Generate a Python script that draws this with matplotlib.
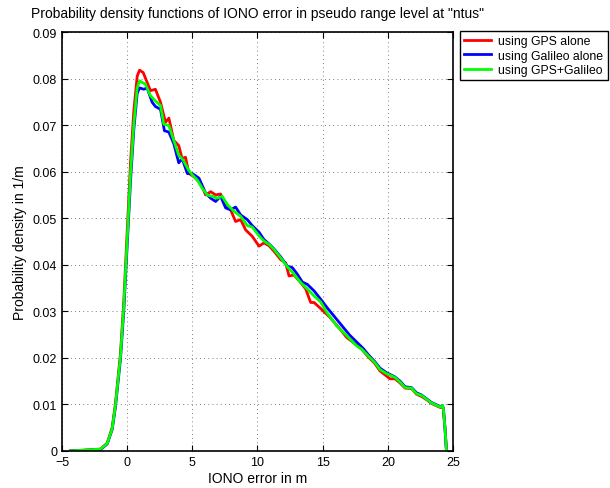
import matplotlib
matplotlib.use("Agg")
import matplotlib.pyplot as plt

plt.rcParams["font.family"] = ["Liberation Sans", "DejaVu Sans"]

# IONO error (m) and pdf values, one list pair per case
gps_x = [-4.35, -2.05, -1.53, -1.15, -0.9, -0.51, -0.26, 0.0, 0.26, 0.51, 0.77, 0.95,
         1.23, 1.79, 2.17, 2.56, 2.94, 3.2, 3.58, 3.96, 4.22, 4.48, 4.74, 5.13, 5.64,
         6.02, 6.41, 6.79, 7.17, 7.56, 7.94, 8.32, 8.71, 9.09, 9.6, 10.12, 10.5, 10.88,
         11.27, 11.78, 12.16, 12.42, 12.8, 13.31, 13.7, 14.08, 14.34, 14.85, 15.56,
         16.33, 16.84, 17.35, 17.99, 18.5, 19.0, 19.4, 20.17, 20.55, 20.94, 21.32,
         21.83, 22.2, 22.6, 22.98, 23.36, 23.75, 24.06, 24.18, 24.26, 24.39, 24.5]
gps_pdf = [0.0, 0.0004, 0.0017, 0.005, 0.0101, 0.021, 0.032, 0.047, 0.062, 0.073, 0.0805,
           0.0818, 0.0813, 0.0774, 0.0777, 0.0749, 0.0706, 0.0715, 0.0667, 0.0656, 0.0628,
           0.0631, 0.0596, 0.0589, 0.0575, 0.055, 0.0557, 0.055, 0.0552, 0.0529, 0.0518,
           0.0493, 0.0497, 0.0475, 0.0461, 0.044, 0.0447, 0.0441, 0.0429, 0.0411, 0.0404,
           0.0376, 0.0378, 0.0362, 0.0348, 0.0319, 0.0319, 0.0306, 0.0287, 0.0262, 0.0244,
           0.0233, 0.0219, 0.0202, 0.0188, 0.0172, 0.0155, 0.0155, 0.0146, 0.0135, 0.0134,
           0.0122, 0.0117, 0.011, 0.0102, 0.0097, 0.0093, 0.0097, 0.0091, 0.0047, 0.0]

gal_x = [-4.35, -2.05, -1.53, -1.15, -0.9, -0.51, -0.26, 0.0, 0.26, 0.51, 0.77, 0.95,
         1.28, 1.53, 1.92, 2.17, 2.56, 2.86, 3.2, 3.58, 3.96, 4.22, 4.62, 5.0, 5.51,
         6.02, 6.41, 6.79, 7.17, 7.56, 7.94, 8.32, 8.71, 9.22, 9.6, 10.12, 10.5, 10.88,
         11.27, 11.78, 12.29, 12.67, 13.05, 13.44, 13.82, 14.34, 14.85, 15.31, 16.07,
         17.1, 18.12, 18.5, 19.0, 19.4, 19.91, 20.55, 20.94, 21.32, 21.83, 22.2, 22.6,
         22.98, 23.36, 23.75, 24.06, 24.18, 24.26, 24.39, 24.5]
gal_pdf = [0.0, 0.0003, 0.0015, 0.0046, 0.0094, 0.0198, 0.030, 0.044, 0.058, 0.069, 0.0768,
           0.078, 0.0777, 0.078, 0.0749, 0.074, 0.0734, 0.0688, 0.0685, 0.066, 0.0619,
           0.0628, 0.0596, 0.0596, 0.0586, 0.0554, 0.0543, 0.0536, 0.0547, 0.0522, 0.0518,
           0.0524, 0.0507, 0.0497, 0.0484, 0.047, 0.0454, 0.0445, 0.0434, 0.0417, 0.0397,
           0.0394, 0.038, 0.0363, 0.0358, 0.0344, 0.0326, 0.0309, 0.0283, 0.0248, 0.022,
           0.0207, 0.0192, 0.0178, 0.0168, 0.0159, 0.015, 0.0138, 0.0136, 0.0125, 0.012,
           0.0112, 0.0104, 0.0099, 0.0095, 0.0098, 0.0092, 0.0048, 0.0]

both_x = [-4.35, -2.05, -1.53, -1.15, -0.9, -0.51, -0.26, 0.0, 0.26, 0.51, 0.77, 0.95,
          1.4, 1.79, 2.17, 2.56, 2.81, 3.2, 3.58, 3.96, 4.3, 4.7, 5.0, 5.38, 5.77, 6.15,
          6.53, 6.92, 7.3, 7.69, 8.2, 8.71, 9.22, 9.6, 10.12, 10.5, 10.88, 11.27, 11.78,
          12.29, 12.8, 13.31, 13.82, 14.34, 14.85, 15.31, 16.07, 16.84, 17.6, 17.99,
          18.5, 19.0, 19.4, 19.91, 20.55, 20.94, 21.32, 21.83, 22.2, 22.6, 22.98, 23.36,
          23.75, 24.06, 24.18, 24.26, 24.39, 24.5]
both_pdf = [0.0, 0.0004, 0.0016, 0.0048, 0.0098, 0.0204, 0.031, 0.0453, 0.0596, 0.0702,
            0.078, 0.0795, 0.0788, 0.0763, 0.0752, 0.0742, 0.0702, 0.0699, 0.0667, 0.0635,
            0.0625, 0.0604, 0.0593, 0.0582, 0.0564, 0.055, 0.0547, 0.0543, 0.0547, 0.0529,
            0.0515, 0.0504, 0.0484, 0.0481, 0.0462, 0.0451, 0.0444, 0.0433, 0.0415, 0.0396,
            0.038, 0.0362, 0.0348, 0.0333, 0.032, 0.0298, 0.0269, 0.0248, 0.0226, 0.0219,
            0.0204, 0.019, 0.0175, 0.0166, 0.0158, 0.0148, 0.0136, 0.0135, 0.0123, 0.0119,
            0.0111, 0.0103, 0.0098, 0.0094, 0.0098, 0.0092, 0.0048, 0.0]

labels = ["using GPS alone", "using Galileo alone", "using GPS+Galileo"]
x_ticks = [-5, 0, 5, 10, 15, 20, 25]
y_ticks = [0, 0.01, 0.02, 0.03, 0.04, 0.05, 0.06, 0.07, 0.08, 0.09]
y_tick_labels = ["0", "0.01", "0.02", "0.03", "0.04", "0.05", "0.06", "0.07", "0.08", "0.09"]

fig = plt.figure(figsize=(6.1, 4.89), dpi=100)
ax = fig.add_axes([0.1016, 0.0757, 0.641, 0.8568])

ax.plot(gps_x, gps_pdf, color="#ff0000", lw=2, label=labels[0])
ax.plot(gal_x, gal_pdf, color="#0000ff", lw=2, label=labels[1])
ax.plot(both_x, both_pdf, color="#00ff00", lw=2, label=labels[2])

ax.set_xlim(-5, 25)
ax.set_ylim(0, 0.09)
ax.set_xticks(x_ticks)
ax.set_yticks(y_ticks)
ax.set_yticklabels(y_tick_labels)
ax.tick_params(direction="in", top=True, right=True, labelsize=9, length=4, width=0.8)
ax.grid(True, linestyle=(0, (1, 4)), color="#555555", lw=0.6)
for s in ax.spines.values():
    s.set_linewidth(1.2)

ax.set_xlabel("IONO error in m", fontsize=10, labelpad=2)
ax.set_ylabel("Probability density in 1/m", fontsize=10, labelpad=4)
ax.set_title('Probability density functions of IONO error in pseudo range level at "ntus"',
             fontsize=10, pad=11)

leg = ax.legend(loc="upper left", bbox_to_anchor=(0.754, 0.9346),
                bbox_transform=fig.transFigure, fontsize=8.8, fancybox=False,
                framealpha=1, edgecolor="black", borderpad=0.35, labelspacing=0.2,
                handlelength=2.2, handletextpad=0.6, borderaxespad=0)
leg.get_frame().set_linewidth(1.0)

fig.savefig("out.png", dpi=100)
